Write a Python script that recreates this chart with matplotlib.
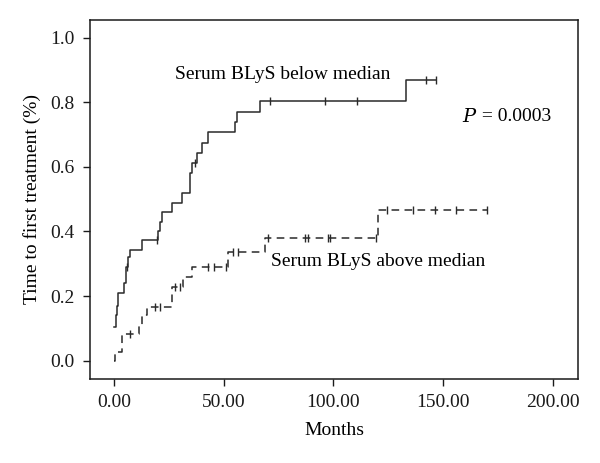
import numpy as np
import matplotlib
matplotlib.use("Agg")
import matplotlib.pyplot as plt

# ---- data ----
below_times = [0, 0.8, 1.2, 2.0, 4.8, 5.3, 5.6, 6.6, 7.2, 12.6, 20.2, 21.0, 21.7,
               26.3, 30.8, 34.6, 35.4, 37.7, 40.0, 42.8, 55.1, 55.9, 66.8, 133.3]
below_vals = [0.104, 0.14, 0.17, 0.209, 0.24, 0.27, 0.29, 0.32, 0.343, 0.373, 0.40,
              0.43, 0.461, 0.489, 0.52, 0.58, 0.611, 0.642, 0.673, 0.709, 0.74,
              0.771, 0.805, 0.869]
below_censor = [5.8, 19.5, 36.9, 71.1, 96.4, 110.8, 142.1, 147.0]

above_times = [0, 0.5, 3.5, 11.5, 12.6, 15.2, 26.3, 31.6, 35.4, 52.1, 68.8, 120.4]
above_vals = [0, 0.028, 0.083, 0.11, 0.14, 0.167, 0.229, 0.26, 0.291, 0.337,
              0.379, 0.467]
above_censor = [7.3, 18.7, 21.0, 27.8, 30.1, 43.0, 45.6, 51.3, 54.4, 56.6, 70.3,
                87.0, 88.5, 97.6, 98.7, 119.4, 124.5, 136.4, 146.2, 156.1, 170.1]

x_ticks = [0, 50, 100, 150, 200]
x_ticklabels = ["0.00", "50.00", "100.00", "150.00", "200.00"]
y_ticks = [0.0, 0.2, 0.4, 0.6, 0.8, 1.0]
y_ticklabels = ["0.0", "0.2", "0.4", "0.6", "0.8", "1.0"]

plt.rcParams['font.family'] = ['Liberation Serif', 'DejaVu Serif']

fig = plt.figure(figsize=(6.0, 4.63), dpi=100)
ax = fig.add_axes([0.15, 0.1814, 0.813, 0.7756])

col = '#2a2a2a'
fs = 14


def km(ax, times, vals, censor, ls):
    t = list(times) + [max(censor)]
    v = list(vals) + [vals[-1]]
    ax.step(t, v, where='post', color=col, lw=1.1, linestyle=ls)
    idx = np.searchsorted(times, censor, side='right') - 1
    cv = np.array(vals)[idx]
    ax.plot(censor, cv, linestyle='none', marker='|', markersize=6,
            markeredgewidth=1.0, color=col)


km(ax, below_times, below_vals, below_censor, '-')
km(ax, above_times, above_vals, above_censor, (0, (5, 3.5)))

ax.set_xlim(-10.9, 211.4)
ax.set_ylim(-0.057, 1.055)
ax.set_xticks(x_ticks)
ax.set_xticklabels(x_ticklabels)
ax.set_yticks(y_ticks)
ax.set_yticklabels(y_ticklabels)
ax.tick_params(direction='out', length=5, width=1, labelsize=fs, colors='#1a1a1a',
               pad=6)
for s in ax.spines.values():
    s.set_linewidth(1.1)
    s.set_color('#1a1a1a')

ax.set_xlabel("Months", fontsize=fs, labelpad=8)
ax.set_ylabel("Time to first treatment (%)", fontsize=fs, labelpad=7)

ax.text(28, 0.885, "Serum BLyS below median", fontsize=fs, va='center', ha='left')
ax.text(71.5, 0.307, "Serum BLyS above median", fontsize=fs, va='center', ha='left')
ax.text(158.5, 0.755, "$P$", fontsize=fs, va='center', ha='left',
        math_fontfamily='dejavuserif')
ax.text(165.5, 0.755, " = 0.0003", fontsize=fs, va='center', ha='left')

fig.savefig("out.png", dpi=100)
